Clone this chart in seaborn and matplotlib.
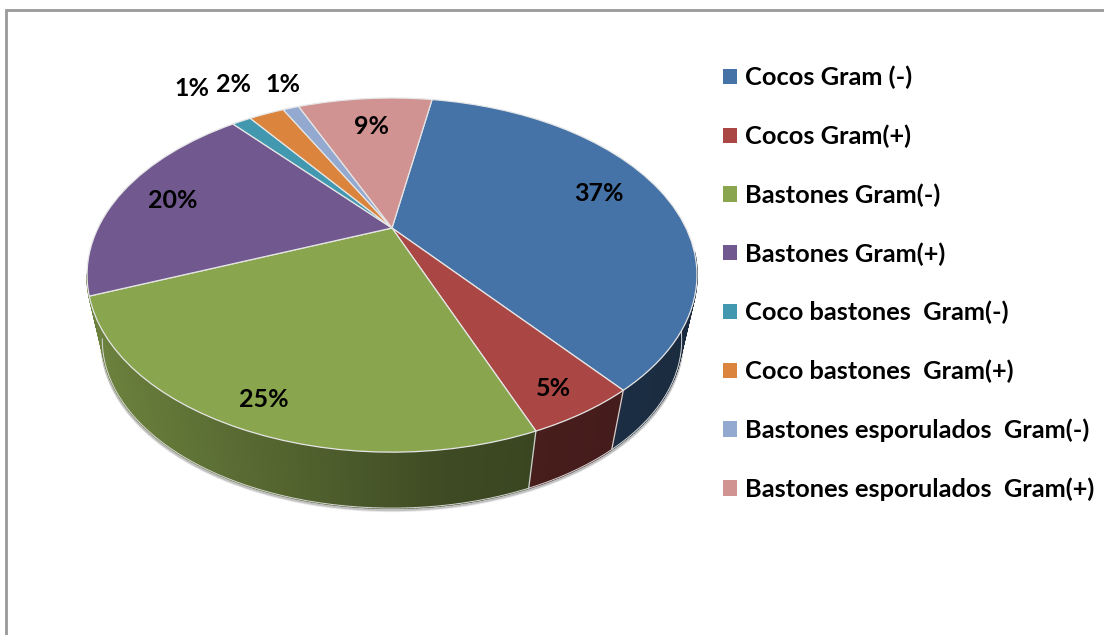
import numpy as np
import matplotlib
matplotlib.use('Agg')
import matplotlib.pyplot as plt
from matplotlib.transforms import Transform
import seaborn as sns

# 数据
categories = ['Cocos Gram (-)', 'Cocos Gram(+)', 'Bastones Gram(-)', 'Bastones Gram(+)',
              'Coco bastones  Gram(-)', 'Coco bastones  Gram(+)',
              'Bastones esporulados  Gram(-)', 'Bastones esporulados  Gram(+)']
values = [36.5, 4.7, 24.9, 19.8, 1.3, 2.4, 1.1, 9.2]
pct_labels = ['37%', '5%', '25%', '20%', '1%', '2%', '1%', '9%']
colors = ['#4572A7', '#AA4643', '#89A54E', '#71588F', '#4198AF', '#DB843D', '#93A9CF', '#D19392']

# 透视参数 (像素)
CX, CY = 392, 228
A, B, K = 164.5, 294, 0.2655
START = 80.1
LABEL_R = [0.78, 0.89, 0.886, 0.80, 1.40, 1.33, 1.23, 0.74]
LABEL_ANGLE = [16.8, -60.6, -112.6, 167.6, 128.8, 121.8, 113, 96.6]
WALL_FROM, WALL_TO = -165, -8


def project(x, y):
    """单位圆 -> 图上的透视椭圆"""
    w = 1 + K * y
    return CX + B * x / w, CY - A * y / w


def lower(px, py):
    """上沿 -> 下沿"""
    return CX + 0.95 * (px - CX), 1575 + 0.95 * (py - 1575)


class Perspective(Transform):
    input_dims = 2
    output_dims = 2
    is_separable = False
    has_inverse = False

    def transform_non_affine(self, values):
        values = np.asarray(values, dtype=float)
        px, py = project(values[:, 0], values[:, 1])
        return np.column_stack([px, py])


def shade(hex_color, px):
    # 侧面左边亮, 右边暗
    f = np.interp(px, [100, 450, 697], [0.78, 0.45, 0.38])
    return tuple(c * f for c in matplotlib.colors.to_rgb(hex_color))


sns.set_theme(style='white')
plt.rcParams['font.family'] = ['Lato', 'DejaVu Sans']

fig, ax = plt.subplots(figsize=(11.04, 6.35), dpi=100)
fig.subplots_adjust(0, 0, 1, 1)
palette = sns.color_palette(colors)

wedges, _ = ax.pie(values, colors=palette, startangle=START, counterclock=False,
                   wedgeprops=dict(edgecolor='#e6e6e6', linewidth=0.9))
persp = Perspective() + ax.transData
for w in wedges:
    w.set_transform(persp)
    w.set_zorder(5)

ax.set_aspect('auto')
ax.set_xlim(0, 1104)
ax.set_ylim(635, 0)
ax.axis('off')

# 侧面: 只有前三块露出来
total = sum(values)
edges = START - 360 * np.cumsum([0] + values) / total
all_t = np.radians(np.linspace(WALL_FROM, WALL_TO, 158))
rx, ry = lower(*project(np.cos(all_t), np.sin(all_t)))
ax.plot(rx, ry + 1, color='#888888', lw=3, alpha=0.45, zorder=1)
ax.plot(rx, ry + 2, color='#aaaaaa', lw=3, alpha=0.25, zorder=1)

for i in range(3):
    a = min(edges[i], WALL_TO)
    b = WALL_FROM if i == 2 else edges[i + 1]
    ts = np.radians(np.linspace(b, a, int((a - b) / 0.6) + 2))
    ux, uy = project(np.cos(ts), np.sin(ts))
    dx, dy = lower(ux, uy)
    for j in range(len(ts) - 1):
        c = shade(colors[i], (ux[j] + ux[j + 1]) / 2)
        ax.fill([ux[j], ux[j + 1], dx[j + 1], dx[j]],
                [uy[j], uy[j + 1], dy[j + 1], dy[j]],
                color=c, lw=1.2, zorder=2)
    # 分隔线
    if i > 0:
        ax.plot([ux[-1], dx[-1]], [uy[-1], dy[-1]], color='#d0d0d0', lw=0.9, zorder=3)
ax.plot(rx, ry, color='#d8d8d8', lw=0.7, zorder=3)

# 百分比标签
for label, r, deg in zip(pct_labels, LABEL_R, LABEL_ANGLE):
    mid = np.radians(deg)
    px, py = project(r * np.cos(mid), r * np.sin(mid))
    ax.text(px, py, label, ha='center', va='center', fontsize=18, fontweight='bold',
            color='black', zorder=6)

# 图例
leg = ax.legend(wedges, categories, loc='upper left', bbox_to_anchor=(723, 66),
                bbox_transform=ax.transData, frameon=False, fontsize=18.3,
                labelspacing=1.386, handlelength=0.55, handleheight=0.55, handletextpad=0.31,
                borderaxespad=0, borderpad=0)
for t in leg.get_texts():
    t.set_fontweight('bold')
    t.set_color('black')
for h in leg.get_patches():
    h.set_edgecolor('none')

# 外框: 只有上边和左边
ax.plot([6, 6, 1104], [635, 10, 10], color='#999999', lw=2, zorder=0, solid_joinstyle='miter')

plt.savefig('out.png', dpi=100)
plt.close()
